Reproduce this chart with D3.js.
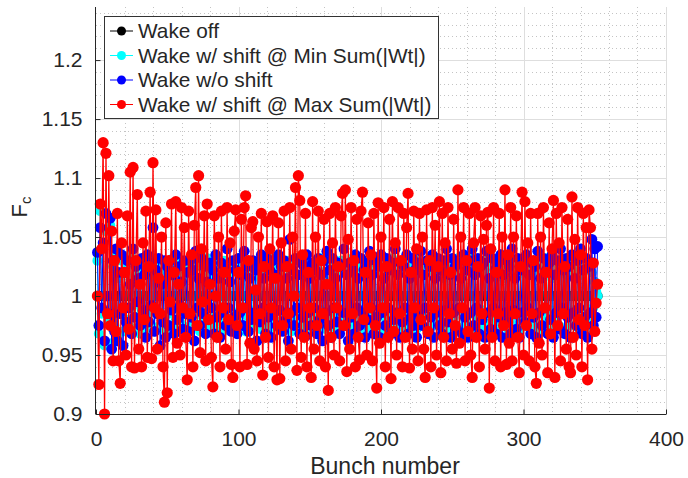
<!DOCTYPE html>
<html><head><meta charset="utf-8">
<script src="https://cdn.jsdelivr.net/npm/d3@7"></script>
<style>body{margin:0;background:#fff}text{font-family:"Liberation Sans",Arial,Helvetica,sans-serif;fill:#262626}</style>
</head><body><svg id="c" width="688" height="478"></svg>
<script>
const xTicks=[0,100,200,300,400];
const yTicks=[0.9,0.95,1,1.05,1.1,1.15,1.2];
const yTickLabels=["0.9","0.95","1","1.05","1.1","1.15","1.2"];
const seriesNames=["Wake off","Wake w/ shift @ Min Sum(|Wt|)","Wake w/o shift","Wake w/ shift @ Max Sum(|Wt|)"];
const seriesColors=["#000000","#00ffff","#0000ff","#ff0000"];

const wakeOff=[
1,1,1,1,1,1,1,1,1,1,1,1,1,1,1,1, 1,1,1,1,1,1,1,1,1,1,1,1,1,1,1,1,
1,1,1,1,1,1,1,1,1,1,1,1,1,1,1,1, 1,1,1,1,1,1,1,1,1,1,1,1,1,1,1,1,
1,1,1,1,1,1,1,1,1,1,1,1,1,1,1,1, 1,1,1,1,1,1,1,1,1,1,1,1,1,1,1,1,
1,1,1,1,1,1,1,1,1,1,1,1,1,1,1,1, 1,1,1,1,1,1,1,1,1,1,1,1,1,1,1,1,
1,1,1,1,1,1,1,1,1,1,1,1,1,1,1,1, 1,1,1,1,1,1,1,1,1,1,1,1,1,1,1,1,
1,1,1,1,1,1,1,1,1,1,1,1,1,1,1,1, 1,1,1,1,1,1,1,1,1,1,1,1,1,1,1,1,
1,1,1,1,1,1,1,1,1,1,1,1,1,1,1,1, 1,1,1,1,1,1,1,1,1,1,1,1,1,1,1,1,
1,1,1,1,1,1,1,1,1,1,1,1,1,1,1,1, 1,1,1,1,1,1,1,1,1,1,1,1,1,1,1,1,
1,1,1,1,1,1,1,1,1,1,1,1,1,1,1,1, 1,1,1,1,1,1,1,1,1,1,1,1,1,1,1,1,
1,1,1,1,1,1,1,1,1,1,1,1,1,1,1,1, 1,1,1,1,1,1,1,1,1,1,1,1,1,1,1,1,
1,1,1,1,1,1,1,1,1,1,1,1,1,1,1,1, 1,1,1,1,1,1,1,1,1,1,1,1,1,1,1,1];

const wakeMinShift=[
1.030,0.968,1.072,0.985,1.040,0.958,1.055,1.000,0.980,1.060,0.960,1.025,0.975,1.035,0.965,1.015,
0.985,1.030,0.970,1.020,0.980,1.025,0.975,1.035,0.990,1.015,0.972,1.028,0.982,1.020,0.968,1.030,
0.978,1.022,0.972,1.032,0.985,1.018,0.975,1.028,0.970,1.025,0.988,1.015,0.975,1.030,0.980,1.022,
0.970,1.028,0.985,1.020,0.975,1.032,0.990,1.015,0.972,1.025,0.982,1.030,0.975,1.018,0.985,1.028,
0.972,1.020,0.980,1.030,0.975,1.025,0.988,1.015,0.970,1.028,0.982,1.022,0.975,1.032,0.985,1.018,
0.975,1.030,0.972,1.022,0.985,1.028,0.978,1.015,0.970,1.030,0.982,1.025,0.975,1.020,0.988,1.028,
0.972,1.025,0.980,1.032,0.975,1.018,0.985,1.028,0.970,1.022,0.982,1.030,0.975,1.015,0.988,1.025,
0.978,1.030,0.972,1.020,0.985,1.028,0.975,1.022,0.970,1.032,0.982,1.018,0.975,1.028,0.988,1.020,
0.972,1.028,0.980,1.015,0.975,1.030,0.985,1.022,0.970,1.025,0.982,1.032,0.975,1.018,0.988,1.028,
0.975,1.020,0.972,1.030,0.985,1.025,0.978,1.018,0.970,1.028,0.982,1.022,0.975,1.032,0.988,1.015,
0.972,1.030,0.980,1.022,0.975,1.028,0.985,1.018,0.970,1.025,0.982,1.030,0.975,1.020,0.988,1.028,
0.978,1.025,0.972,1.032,0.985,1.018,0.975,1.028,0.970,1.022,0.982,1.030,0.975,1.015,0.988,1.025,
0.972,1.028,0.980,1.020,0.975,1.030,0.985,1.025,0.970,1.018,0.982,1.028,0.975,1.022,0.988,1.032,
0.975,1.018,0.972,1.028,0.985,1.022,0.978,1.030,0.970,1.025,0.982,1.015,0.975,1.028,0.988,1.020,
0.972,1.032,0.980,1.025,0.975,1.018,0.985,1.028,0.970,1.022,0.982,1.030,0.975,1.020,0.988,1.025,
0.978,1.028,0.972,1.015,0.985,1.030,0.975,1.022,0.970,1.028,0.982,1.018,0.975,1.032,0.988,1.025,
0.972,1.020,0.980,1.028,0.975,1.025,0.985,1.032,0.970,1.018,0.982,1.028,0.975,1.022,0.988,1.030,
0.975,1.025,0.972,1.018,0.985,1.028,0.978,1.022,0.970,1.032,0.982,1.025,0.975,1.015,0.988,1.028,
0.972,1.030,0.980,1.022,0.975,1.028,0.985,1.018,0.970,1.025,0.982,1.030,0.975,1.020,0.988,1.028,
0.978,1.022,0.972,1.030,0.985,1.025,0.975,1.018,0.970,1.028,0.982,1.032,0.975,1.022,0.988,1.015,
0.972,1.028,0.980,1.020,0.975,1.030,0.985,1.025,0.970,1.018,0.982,1.028,0.975,1.022,0.988,1.030,
0.975,1.025,0.972,1.018,0.985,1.028,0.978,1.022,0.970,1.030,0.982,1.020,0.990,1.012,1.004,1.000];

const wakeNoShift=[
1.037,0.975,1.058,0.990,1.045,0.962,1.070,1.000,0.985,1.066,0.955,1.030,0.970,1.040,0.962,1.020,
0.985,1.035,0.958,1.020,0.978,1.030,0.990,1.010,0.968,1.040,0.982,1.025,0.995,1.015,0.975,1.032,
0.988,1.018,0.965,1.035,0.978,1.028,0.992,1.058,0.970,1.022,0.985,1.032,0.958,1.010,0.978,1.030,
0.965,1.025,0.975,1.030,0.988,1.018,0.968,1.035,0.980,1.025,0.992,1.012,0.972,1.030,0.985,1.020,
0.970,1.030,0.982,1.022,0.962,1.038,0.990,1.015,0.975,1.032,0.985,1.025,0.968,1.012,0.980,1.028,
0.990,1.022,0.968,1.035,0.982,1.015,0.965,1.028,0.986,1.025,0.975,1.040,0.990,1.012,0.970,1.030,
0.982,1.022,0.968,1.032,0.986,1.018,0.975,1.038,0.990,1.025,0.970,1.015,0.980,1.030,0.986,1.022,
0.962,1.028,0.978,1.035,0.990,1.015,0.968,1.032,0.982,1.022,0.965,1.030,0.986,1.018,0.975,1.035,
0.988,1.025,0.970,1.030,0.980,1.015,0.962,1.048,0.986,1.022,0.975,1.032,0.990,1.018,0.968,1.028,
0.982,1.025,0.966,1.035,0.986,1.015,0.975,1.028,0.990,1.022,0.968,1.032,0.980,1.018,0.962,1.030,
0.986,1.038,0.975,1.022,0.965,1.032,0.990,1.015,0.978,1.028,0.968,1.025,0.986,1.040,0.975,1.018,
0.962,1.028,0.982,1.022,0.968,1.035,0.990,1.015,0.975,1.032,0.986,1.022,0.965,1.028,0.980,1.038,
0.990,1.018,0.968,1.030,0.982,1.025,0.965,1.035,0.986,1.015,0.975,1.032,0.990,1.022,0.968,1.028,
0.980,1.040,0.986,1.018,0.965,1.028,0.978,1.025,0.990,1.035,0.968,1.015,0.982,1.032,0.975,1.022,
0.965,1.028,0.986,1.038,0.975,1.018,0.990,1.030,0.968,1.025,0.982,1.035,0.965,1.015,0.986,1.032,
0.975,1.022,0.968,1.030,0.988,1.040,0.978,1.018,0.965,1.032,0.986,1.025,0.972,1.028,0.990,1.015,
0.968,1.035,0.982,1.022,0.965,1.030,0.986,1.040,0.975,1.018,0.990,1.032,0.968,1.025,0.980,1.028,
0.965,1.038,0.986,1.015,0.972,1.032,0.990,1.022,0.968,1.028,0.982,1.035,0.965,1.018,0.986,1.030,
0.978,1.025,0.968,1.040,0.988,1.015,0.972,1.032,0.965,1.022,0.986,1.030,0.978,1.035,0.990,1.018,
0.968,1.028,0.982,1.025,0.965,1.038,0.986,1.015,0.975,1.032,0.990,1.022,0.968,1.028,0.980,1.035,
0.965,1.018,0.986,1.030,0.972,1.040,0.990,1.022,0.968,1.032,0.982,1.025,0.965,1.035,0.986,1.015,
0.975,1.030,0.990,1.040,0.968,1.022,0.982,1.032,0.965,1.025,0.986,1.048,0.975,1.040,0.982,1.042];

const wakeMaxShift=[
1.000,0.925,1.078,1.040,1.130,0.900,1.121,0.985,1.102,0.975,1.055,0.945,1.030,0.970,1.070,0.945,
0.926,1.045,0.990,1.020,0.950,1.068,0.972,1.105,0.940,1.109,0.939,1.030,1.086,0.955,1.010,0.940,
1.045,0.980,1.072,0.948,1.025,1.088,0.947,1.113,0.990,1.073,0.955,1.015,0.985,1.050,0.940,0.910,
1.062,0.918,1.030,0.995,1.078,0.948,1.020,1.080,0.960,1.010,0.950,1.075,0.990,1.058,0.965,0.929,
1.072,0.985,1.035,0.940,1.060,1.092,0.975,1.102,0.952,1.040,0.995,1.068,0.945,1.078,0.980,1.010,
0.948,0.923,1.068,1.000,0.965,1.050,0.940,1.072,0.990,1.020,0.955,1.075,0.980,1.045,0.942,0.931,
1.055,1.073,0.975,1.020,0.940,1.065,0.990,1.075,1.085,0.942,1.030,0.960,1.058,1.063,0.955,1.005,
0.945,1.050,0.985,1.070,0.933,1.025,0.965,1.063,0.948,1.040,0.990,1.068,0.940,1.015,0.929,1.062,
0.930,1.045,0.975,1.072,0.945,1.025,0.985,1.075,0.955,1.050,1.000,1.092,0.937,1.102,1.081,0.948,
1.035,0.965,1.070,0.940,1.020,0.990,0.931,1.080,0.955,1.050,0.975,1.072,0.945,1.030,0.985,1.065,
0.940,1.010,0.920,1.070,0.965,1.045,0.950,1.075,0.990,1.025,0.945,1.068,1.087,0.975,1.090,0.936,
1.048,0.955,1.075,0.985,1.030,0.940,1.065,0.965,0.946,1.072,1.088,0.980,1.020,0.950,1.062,0.990,
1.035,0.945,1.070,0.975,0.922,1.079,0.960,1.050,0.990,1.075,0.940,1.025,0.965,1.065,0.930,1.080,
0.970,1.045,0.950,1.075,0.985,1.030,0.940,1.070,0.965,1.058,1.087,0.939,1.020,0.955,1.072,0.990,
1.040,0.945,1.070,0.980,1.050,0.955,0.931,1.073,0.970,1.030,0.940,1.075,0.990,1.060,0.950,1.025,
1.080,0.935,1.070,0.965,1.045,0.945,1.075,0.985,1.020,0.955,1.065,0.975,0.943,1.090,0.960,1.050,
0.990,1.075,0.945,1.030,0.970,1.070,0.950,0.931,1.045,1.075,0.965,1.025,0.940,1.068,0.985,1.048,
0.955,1.060,1.071,0.922,1.040,0.965,1.075,0.945,1.020,0.985,1.070,0.940,1.050,0.975,1.090,0.942,
1.035,0.960,1.075,0.945,1.050,0.985,1.068,0.965,0.935,1.025,1.088,0.950,1.080,0.975,1.045,0.945,
1.070,0.985,1.030,0.940,0.926,1.070,0.960,1.050,0.950,1.075,0.990,1.020,0.935,1.062,0.968,1.040,
1.081,0.931,1.070,0.975,1.045,0.945,1.075,0.985,1.025,0.955,1.065,0.940,0.935,1.084,0.965,1.048,
0.950,1.075,0.980,1.035,0.940,1.070,0.975,1.058,0.929,1.073,1.058,0.955,1.028,0.970,0.994,1.010];

const seriesData=[wakeOff,wakeMinShift,wakeNoShift,wakeMaxShift];

const svg=d3.select("#c");
const L=96,R=666,T=7,B=414;
const x=d3.scaleLinear().domain([0,400]).range([L,R]);
const y=d3.scaleLinear().domain([0.9,1.245]).range([B,T]);

// grid
const g=svg.append("g");
const minorX=d3.range(20,400,20).filter(v=>v%100!==0);
const minorY=d3.range(91,125,1).map(v=>v/100).filter(v=>Math.round(v*100)%5!==0);
g.selectAll(".mx").data(minorX).join("line").attr("x1",d=>Math.round(x(d))+0.5).attr("x2",d=>Math.round(x(d))+0.5).attr("y1",T).attr("y2",B)
 .attr("stroke","#c4c4c4").attr("stroke-dasharray","1,3").attr("stroke-width",1);
g.selectAll(".my").data(minorY).join("line").attr("y1",d=>Math.round(y(d))+0.5).attr("y2",d=>Math.round(y(d))+0.5).attr("x1",L).attr("x2",R)
 .attr("stroke","#c4c4c4").attr("stroke-dasharray","1,3").attr("stroke-width",1);
g.selectAll(".gx").data(xTicks.slice(1)).join("line").attr("x1",d=>Math.round(x(d))+0.5).attr("x2",d=>Math.round(x(d))+0.5).attr("y1",T).attr("y2",B)
 .attr("stroke","#dedede").attr("stroke-width",1);
g.selectAll(".gy").data(yTicks.slice(1)).join("line").attr("y1",d=>Math.round(y(d))+0.5).attr("y2",d=>Math.round(y(d))+0.5).attr("x1",L).attr("x2",R)
 .attr("stroke","#dedede").attr("stroke-width",1);

// series
const line=d3.line().x((d,i)=>x(i+1)).y(d=>y(d));
const lineWidths=[1,1,1,1.3];
const radii=[5,5,5.4,5.6];
seriesData.forEach((data,k)=>{
  const sg=svg.append("g");
  sg.append("path").datum(data).attr("d",line).attr("fill","none").attr("stroke",seriesColors[k]).attr("stroke-width",lineWidths[k]);
  sg.selectAll("circle").data(data).join("circle").attr("cx",(d,i)=>x(i+1)).attr("cy",d=>y(d)).attr("r",radii[k]).attr("fill",seriesColors[k]);
});

// axes
const ax=svg.append("g");
const xAxis=d3.axisBottom(x).tickValues(xTicks).tickSize(-5).tickPadding(12).tickFormat(d3.format("d"));
const xa=ax.append("g").attr("transform",`translate(0,${B+0.5})`).call(xAxis);
const yAxis=d3.axisLeft(y).tickValues(yTicks).tickSize(-5).tickPadding(13).tickFormat((d,i)=>yTickLabels[i]);
const ya=ax.append("g").attr("transform",`translate(${L-0.5},0)`).call(yAxis);
[xa,ya].forEach(a=>{
  a.select(".domain").attr("stroke","#262626");
  a.selectAll(".tick line").attr("stroke","#262626");
  a.selectAll(".tick text").attr("font-size",21).attr("fill","#262626").attr("font-family","Liberation Sans, Arial, sans-serif");
});
ya.select(".domain").attr("d",`M0,${T}V${B}`);
xa.select(".domain").attr("d",`M${L},0H${R}`);
xa.selectAll(".tick text").attr("dy",null).attr("y",31);

svg.append("text").attr("x",(L+R)/2+4).attr("y",474).attr("text-anchor","middle").attr("font-size",23).text("Bunch number");
const yl=svg.append("text").attr("transform","translate(27,207) rotate(-90)").attr("text-anchor","middle").attr("font-size",22);
yl.append("tspan").text("F");
yl.append("tspan").attr("font-size",15).attr("dy",4).text("c");

// legend
const lg=svg.append("g");
lg.append("rect").attr("x",104.5).attr("y",16.5).attr("width",334).attr("height",102).attr("fill","#fff").attr("stroke","#333").attr("stroke-width",1);
seriesNames.forEach((n,k)=>{
  const yy=31+k*24.5;
  lg.append("line").attr("x1",110).attr("x2",133).attr("y1",yy).attr("y2",yy).attr("stroke",seriesColors[k]).attr("stroke-width",1);
  lg.append("circle").attr("cx",121.5).attr("cy",yy).attr("r",4.5).attr("fill",seriesColors[k]);
  lg.append("text").attr("x",138).attr("y",yy).attr("dy","0.36em").attr("font-size",20.8).attr("fill","#111").text(n);
});
</script></body></html>
